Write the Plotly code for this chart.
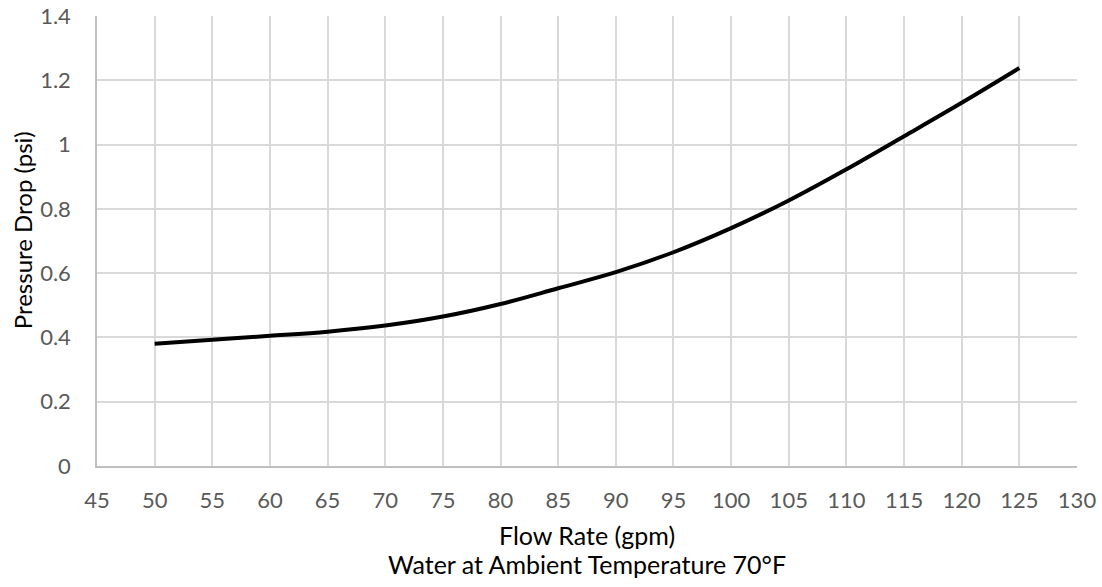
import plotly.graph_objects as go

flow_gpm = [50, 55, 60, 65, 70, 75, 80, 85, 90, 95, 100, 105, 110, 115, 120, 125]
pressure_psi = [0.380, 0.393, 0.405, 0.418, 0.437, 0.465, 0.504, 0.553, 0.603, 0.665,
                0.740, 0.826, 0.923, 1.026, 1.130, 1.238]

x_title_1 = "Flow Rate (gpm)"
x_title_2 = "Water at Ambient Temperature 70°F"
y_title = "Pressure Drop (psi)"

font_family = "Lato, Open Sans, sans-serif"
tick_color = "#595959"
title_color = "#000000"

fig = go.Figure()
fig.add_trace(go.Scatter(
    x=flow_gpm, y=pressure_psi, mode="lines",
    line=dict(color="black", width=4, shape="spline", smoothing=1.0),
    showlegend=False, hoverinfo="x+y",
))

fig.update_layout(
    width=1102, height=587,
    margin=dict(l=97, r=25, t=16, b=121),
    paper_bgcolor="white", plot_bgcolor="white",
    font=dict(family=font_family, color=tick_color, size=22),
)
fig.update_xaxes(
    range=[45, 130], dtick=5, tick0=45,
    showgrid=True, gridcolor="#d9d9d9", gridwidth=1.5,
    showline=True, linecolor="#bfbfbf", linewidth=1.5,
    ticks="", zeroline=False, automargin=False,
    ticklabelstandoff=14, ticklabeloverflow="allow",
    tickfont=dict(size=22, color=tick_color, family=font_family),
)
fig.update_yaxes(
    range=[0, 1.4], dtick=0.2,
    showgrid=True, gridcolor="#d9d9d9", gridwidth=1.5,
    showline=True, linecolor="#bfbfbf", linewidth=1.5,
    ticks="", zeroline=False, automargin=False,
    ticklabelstandoff=20, ticklabeloverflow="allow",
    tickfont=dict(size=22, color=tick_color, family=font_family),
)

fig.add_annotation(text=x_title_1, xref="paper", yref="paper", x=0.5, y=-0.154,
                   xanchor="center", yanchor="middle", showarrow=False,
                   font=dict(size=25, color=title_color, family=font_family))
fig.add_annotation(text=x_title_2, xref="paper", yref="paper", x=0.5, y=-0.218,
                   xanchor="center", yanchor="middle", showarrow=False,
                   font=dict(size=25, color=title_color, family=font_family))
fig.add_annotation(text=y_title, xref="paper", yref="paper", x=-0.0765, y=0.524,
                   xanchor="center", yanchor="middle", textangle=-90, showarrow=False,
                   font=dict(size=24, color=title_color, family=font_family))

fig.write_html("out.html", config={"displayModeBar": False},
               post_script="document.body.style.margin='0';")
